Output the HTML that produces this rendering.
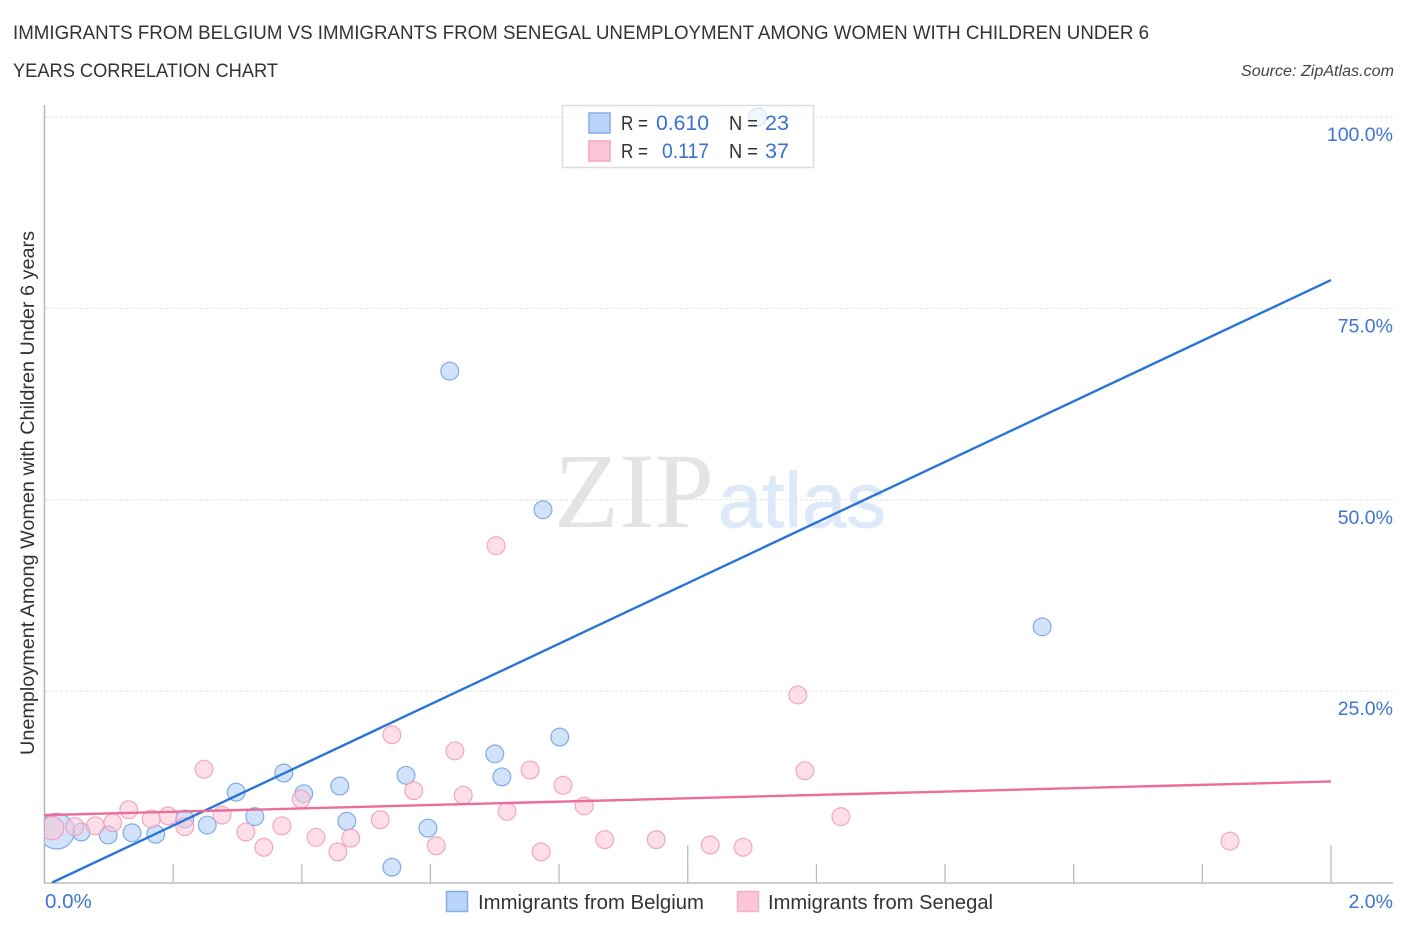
<!DOCTYPE html>
<html lang="en">
<head>
<meta charset="utf-8">
<title>Immigrants from Belgium vs Immigrants from Senegal Unemployment Correlation Chart</title>
<style>
html,body{margin:0;padding:0;background:#fff;width:1406px;height:930px;overflow:hidden}
svg{display:block}
text{font-family:"Liberation Sans",sans-serif}
</style>
</head>
<body>
<svg id="chart" width="1406" height="930" viewBox="0 0 1406 930" xmlns="http://www.w3.org/2000/svg">
  <defs>
    <clipPath id="plot-clip"><rect x="45" y="100" width="1350" height="783"/></clipPath>
  </defs>
  <rect x="0" y="0" width="1406" height="930" fill="#ffffff"/>
  <text x="13" y="39" font-size="19" fill="#333333" textLength="1136" lengthAdjust="spacingAndGlyphs">IMMIGRANTS FROM BELGIUM VS IMMIGRANTS FROM SENEGAL UNEMPLOYMENT AMONG WOMEN WITH CHILDREN UNDER 6</text>
  <text x="13" y="77" font-size="19" fill="#333333" textLength="265" lengthAdjust="spacingAndGlyphs">YEARS CORRELATION CHART</text>
  <text x="1241" y="76" font-size="15.5" font-style="italic" fill="#444444" textLength="153" lengthAdjust="spacingAndGlyphs">Source: ZipAtlas.com</text>

  <g>
    <text x="554" y="527" font-size="107" fill="#e4e4e4" style="font-family:'Liberation Serif',serif" textLength="160" lengthAdjust="spacingAndGlyphs">ZIP</text>
    <text x="718" y="527" font-size="78" fill="#dde9f9" stroke="#dde9f9" stroke-width="0.8" textLength="168" lengthAdjust="spacingAndGlyphs">atlas</text>
  </g>

  <g id="grid"></g>
  <g id="axes"></g>
  <g id="ylabels"></g>
  <g id="xlabels"></g>
  <text transform="translate(34,493) rotate(-90)" text-anchor="middle" font-size="19" fill="#333333" textLength="524" lengthAdjust="spacingAndGlyphs">Unemployment Among Women with Children Under 6 years</text>

  <g id="points-belgium" clip-path="url(#plot-clip)"></g>
  <g id="points-senegal" clip-path="url(#plot-clip)"></g>
  <g id="trends"></g>

  <g>
    <rect x="562.5" y="105.5" width="251" height="62" fill="#ffffff" fill-opacity="0.7" stroke="#dddddd" stroke-width="1.5"/>
    <rect x="589" y="113" width="21" height="20" fill="#b9d4f8" stroke="#86aee3" stroke-width="1.5"/>
    <rect x="589" y="141" width="21" height="20" fill="#fdc5d6" stroke="#f3a3bc" stroke-width="1.5"/>
    <text x="621" y="130" font-size="20" fill="#333333" textLength="27" lengthAdjust="spacingAndGlyphs">R =</text>
    <text x="656" y="130" font-size="21" fill="#3a72cf" textLength="53" lengthAdjust="spacingAndGlyphs">0.610</text>
    <text x="729" y="130" font-size="20" fill="#333333" textLength="29" lengthAdjust="spacingAndGlyphs">N =</text>
    <text x="765" y="130" font-size="21" fill="#3a72cf" textLength="24" lengthAdjust="spacingAndGlyphs">23</text>
    <text x="621" y="158" font-size="20" fill="#333333" textLength="27" lengthAdjust="spacingAndGlyphs">R =</text>
    <text x="662" y="158" font-size="21" fill="#3a72cf" textLength="47" lengthAdjust="spacingAndGlyphs">0.117</text>
    <text x="729" y="158" font-size="20" fill="#333333" textLength="29" lengthAdjust="spacingAndGlyphs">N =</text>
    <text x="765" y="158" font-size="21" fill="#3a72cf" textLength="24" lengthAdjust="spacingAndGlyphs">37</text>
  </g>

  <g>
    <rect x="446.5" y="891.5" width="21" height="20" fill="#b9d4f8" stroke="#86aee3" stroke-width="1.5"/>
    <text x="478" y="909" font-size="20" fill="#333333" textLength="226" lengthAdjust="spacingAndGlyphs">Immigrants from Belgium</text>
    <rect x="737.5" y="891.5" width="21" height="20" fill="#fdc5d6" stroke="#f3b3c7" stroke-width="1.5"/>
    <text x="768" y="909" font-size="20" fill="#333333" textLength="225" lengthAdjust="spacingAndGlyphs">Immigrants from Senegal</text>
  </g>
</svg>
<script>
// x values in percent of the 0-2% axis, y values in percent of the 0-100% axis
const belgiumX = [1.109,0.630,0.775,1.551,0.801,0.700,0.711,0.372,0.562,0.459,0.298,0.403,0.327,0.470,0.253,0.596,0.218,0.136,0.173,0.099,0.057,0.019,0.540];
const belgiumY = [100.0,66.8,48.7,33.4,19.0,16.8,13.8,14.3,14.0,12.6,11.8,11.6,8.6,8.0,7.5,7.1,8.3,6.5,6.3,6.2,6.6,6.7,2.0];
const belgiumWeight = [1,1,1,1,1,1,1,1,1,1,1,1,1,1,1,1,1,1,1,1,1,4.0,1];

const senegalX = [0.702,1.171,0.540,0.638,0.248,1.182,0.755,0.806,0.574,0.651,0.399,0.839,0.131,0.719,1.238,0.192,0.276,0.166,0.522,0.106,0.218,0.369,0.079,0.047,0.012,0.313,0.422,0.476,0.871,0.951,1.035,1.086,0.609,0.341,0.456,0.772,1.843];
const senegalY = [44.0,24.5,19.3,17.2,14.8,14.6,14.7,12.7,12.0,11.4,10.9,10.0,9.5,9.3,8.6,8.7,8.8,8.3,8.2,7.8,7.3,7.4,7.4,7.3,7.1,6.6,5.9,5.8,5.6,5.6,4.9,4.6,4.8,4.6,4.0,4.0,5.4];
const senegalWeight = [1,1,1,1,1,1,1,1,1,1,1,1,1,1,1,1,1,1,1,1,1,1,1,1,1.7,1,1,1,1,1,1,1,1,1,1,1,1];

const belgiumTrendX = [0.012,2.0];
const belgiumTrendY = [0.0,78.7];
const senegalTrendX = [0.0,2.0];
const senegalTrendY = [8.8,13.2];

const yGridValues = [25,50,75,100];
const yTickLabels = ["25.0%","50.0%","75.0%","100.0%"];
const xTickValues = [0.2,0.4,0.6,0.8,1.0,1.2,1.4,1.6,1.8,2.0];
const xEndValues = [0,2];
const xEndLabels = ["0.0%","2.0%"];

const NS = "http://www.w3.org/2000/svg";
const xScale = v => 44.5 + v * 643.25;
const yScale = v => 882.5 - v * 7.655;
const baseRadius = 8.9;

function make(tag, attrs, parent) {
  const el = document.createElementNS(NS, tag);
  for (const k in attrs) el.setAttribute(k, attrs[k]);
  parent.appendChild(el);
  return el;
}

const grid = document.getElementById("grid");
yGridValues.forEach(function (v) {
  const l = make("line", {x1: 45, x2: 1393, y1: yScale(v), y2: yScale(v), stroke: "#e2e2e2", "stroke-width": 1, "stroke-dasharray": "3 2"}, grid);
  
  
});

const axes = document.getElementById("axes");
const yAxis = make("line", {x1: 44.5, x2: 44.5, y1: 105, y2: 883.5, stroke: "#b5b5b5", "stroke-width": 1.5}, axes);


const xAxis = make("line", {x1: 44, x2: 1393, y1: 883, y2: 883, stroke: "#bdbdbd", "stroke-width": 1.5}, axes);


xTickValues.forEach(function (v) {
  const top = (v === 1.0 || v === 2.0) ? 845 : 864;
  const t = make("line", {x1: xScale(v), x2: xScale(v), y1: top, y2: 883, stroke: "#b8b8b8", "stroke-width": 1.2}, axes);
  
  
});

const ylabels = document.getElementById("ylabels");
yGridValues.forEach(function (v, i) {
  const t = make("text", {x: 1393, y: yScale(v) + 24, "text-anchor": "end", "font-size": 19.5, fill: "#3f74d2"}, ylabels);
  
  
  t.textContent = yTickLabels[i];
});

const xlabels = document.getElementById("xlabels");
xEndValues.forEach(function (v, i) {
  const t = make("text", {x: v === 0 ? xScale(v) + 0.5 : xScale(v) + 62, y: 908, "text-anchor": v === 0 ? "start" : "end", "font-size": v === 0 ? 20.5 : 19.5, fill: "#3f74d2"}, xlabels);
  
  
  t.textContent = xEndLabels[i];
});

const gB = document.getElementById("points-belgium");
belgiumX.forEach(function (v, i) {
  const c = make("circle", {cx: xScale(v), cy: yScale(belgiumY[i]), r: baseRadius * Math.sqrt(belgiumWeight[i]), fill: "#b9d4f8", "fill-opacity": 0.65, stroke: "#6f9fdf", "stroke-opacity": 0.85, "stroke-width": 1.2}, gB);
  
  
});

const gS = document.getElementById("points-senegal");
senegalX.forEach(function (v, i) {
  const c = make("circle", {cx: xScale(v), cy: yScale(senegalY[i]), r: baseRadius * Math.sqrt(senegalWeight[i]), fill: "#fdc5d6", "fill-opacity": 0.55, stroke: "#f09ab5", "stroke-opacity": 0.85, "stroke-width": 1.2}, gS);
  
  
});

const trends = document.getElementById("trends");
const lineB = make("line", {x1: xScale(belgiumTrendX[0]), y1: yScale(belgiumTrendY[0]), x2: xScale(belgiumTrendX[1]), y2: yScale(belgiumTrendY[1]), stroke: "#2a74d8", "stroke-width": 2.4}, trends);


const lineS = make("line", {x1: xScale(senegalTrendX[0]), y1: yScale(senegalTrendY[0]), x2: xScale(senegalTrendX[1]), y2: yScale(senegalTrendY[1]), stroke: "#ec6d9b", "stroke-width": 2.4}, trends);


</script>
</body>
</html>
